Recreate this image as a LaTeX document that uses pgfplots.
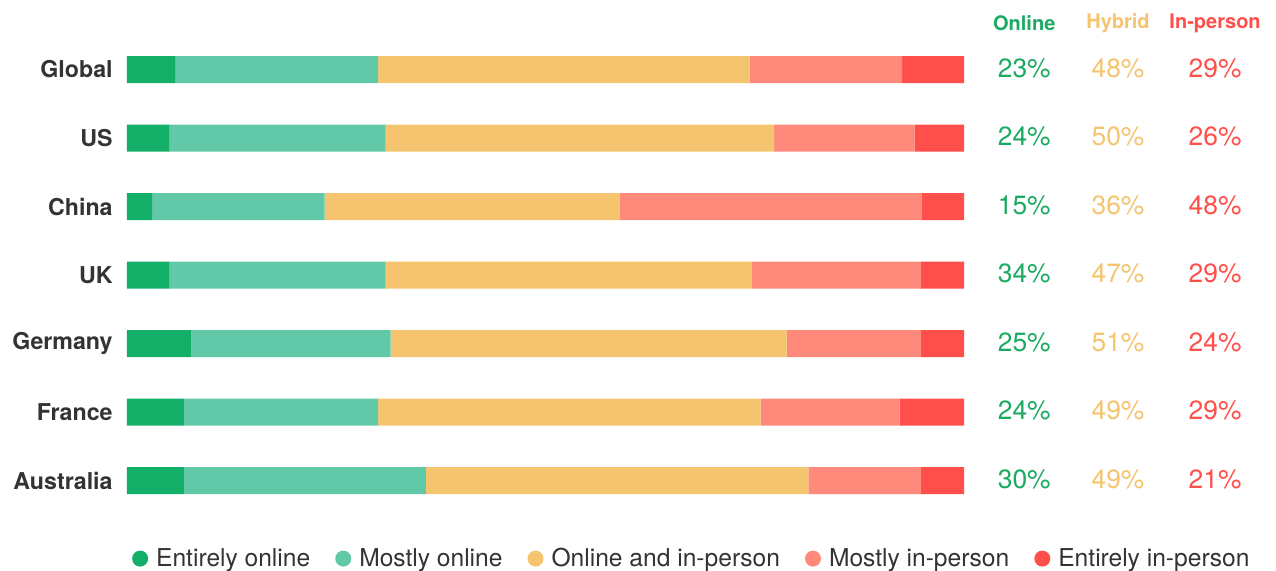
\documentclass[border=0pt]{standalone}
\usepackage{fontspec}
\setmainfont{TeX Gyre Heros}
\usepackage{pgfplots}
\usepackage{pgfplotstable}
\pgfplotsset{compat=1.18}
\definecolor{eo}{HTML}{13AE67}
\definecolor{mo}{HTML}{61C9A8}
\definecolor{oi}{HTML}{F4C46E}
\definecolor{mi}{HTML}{FF897A}
\definecolor{ei}{HTML}{FF4F4A}
\definecolor{txt}{HTML}{333333}
\definecolor{ongreen}{HTML}{1BAA62}
\tikzset{pct/.style={font=\fontsize{13.2}{15}\selectfont, anchor=center},
  hdr/.style={font=\bfseries\fontsize{10}{12}\selectfont, anchor=center}}
\pgfplotstableread{
y eo mo oi mi ei
0 5.8 24.2 44.4 18.2 7.4
1 5.1 25.8 46.4 16.8 5.9
2 3.0 20.6 35.3 36.0 5.1
3 5.1 25.8 43.8 20.1 5.2
4 7.7 23.8 47.3 16.0 5.2
5 6.8 23.2 45.7 16.6 7.7
6 6.8 28.9 45.7 13.4 5.2
}\data
\begin{document}
\begin{tikzpicture}
\useasboundingbox (0,0) rectangle (638pt,285pt);
\begin{axis}[
  at={(63.5pt,27.625pt)}, anchor=south west,
  scale only axis, width=418.5pt, height=239.75pt,
  xbar stacked, bar width=13.5pt,
  legend image code/.code={\fill[#1] (4pt,0pt) circle (4pt);},
  xmin=0, xmax=100, ymin=-0.5, ymax=6.5, y dir=reverse,
  ytick={0,...,6}, yticklabels={Global,US,China,UK,Germany,France,Australia},
  xtick=\empty, axis line style={draw=none}, major tick length=0pt,
  yticklabel style={font=\bfseries\fontsize{11.6}{14}\selectfont, text=txt, inner sep=0pt, xshift=-7pt},
  clip=false,
  legend columns=5,
  legend style={at={(axis cs:67.6,7.14)}, anchor=center, draw=none, fill=none,
    font=\fontsize{12.3}{14}\selectfont, text=txt,
    /tikz/every even column/.append style={column sep=10.5pt},
    /tikz/every odd column/.append style={column sep=2pt}},
]
\addplot[fill=eo, draw=none] table[x=eo, y=y] {\data};
\addplot[fill=mo, draw=none] table[x=mo, y=y] {\data};
\addplot[fill=oi, draw=none] table[x=oi, y=y] {\data};
\addplot[fill=mi, draw=none] table[x=mi, y=y] {\data};
\addplot[fill=ei, draw=none] table[x=ei, y=y] {\data};
\legend{Entirely online, Mostly online, Online and in-person, Mostly in-person, Entirely in-person}
\node[hdr, text=ongreen] at (axis cs:107.2,-0.68) {Online};
\node[hdr, text=oi] at (axis cs:118.4,-0.68) {Hybrid};
\node[hdr, text=ei] at (axis cs:130.0,-0.68) {In-person};
\node[pct, text=ongreen] at (axis cs:107.2,-0.02) {23\%};
\node[pct, text=oi] at (axis cs:118.4,-0.02) {48\%};
\node[pct, text=ei] at (axis cs:130.0,-0.02) {29\%};
\node[pct, text=ongreen] at (axis cs:107.2,0.98) {24\%};
\node[pct, text=oi] at (axis cs:118.4,0.98) {50\%};
\node[pct, text=ei] at (axis cs:130.0,0.98) {26\%};
\node[pct, text=ongreen] at (axis cs:107.2,1.98) {15\%};
\node[pct, text=oi] at (axis cs:118.4,1.98) {36\%};
\node[pct, text=ei] at (axis cs:130.0,1.98) {48\%};
\node[pct, text=ongreen] at (axis cs:107.2,2.98) {34\%};
\node[pct, text=oi] at (axis cs:118.4,2.98) {47\%};
\node[pct, text=ei] at (axis cs:130.0,2.98) {29\%};
\node[pct, text=ongreen] at (axis cs:107.2,3.98) {25\%};
\node[pct, text=oi] at (axis cs:118.4,3.98) {51\%};
\node[pct, text=ei] at (axis cs:130.0,3.98) {24\%};
\node[pct, text=ongreen] at (axis cs:107.2,4.98) {24\%};
\node[pct, text=oi] at (axis cs:118.4,4.98) {49\%};
\node[pct, text=ei] at (axis cs:130.0,4.98) {29\%};
\node[pct, text=ongreen] at (axis cs:107.2,5.98) {30\%};
\node[pct, text=oi] at (axis cs:118.4,5.98) {49\%};
\node[pct, text=ei] at (axis cs:130.0,5.98) {21\%};
\end{axis}
\end{tikzpicture}
\end{document}
